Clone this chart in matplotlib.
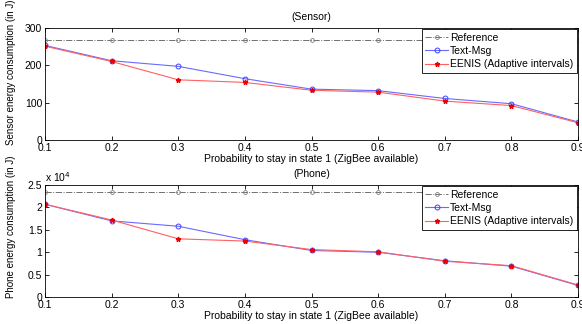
import matplotlib
matplotlib.use("Agg")
import matplotlib.pyplot as plt
from matplotlib.ticker import FuncFormatter

x = [0.1, 0.2, 0.3, 0.4, 0.5, 0.6, 0.7, 0.8, 0.9]
sensor_ref = [267, 267, 267, 267, 267, 267, 267, 267, 267]
sensor_txt = [253, 212, 197, 164, 136, 132, 111, 97, 48]
sensor_eenis = [251, 210, 161, 154, 133, 128, 104, 92, 46]
phone_ref = [23400, 23400, 23400, 23400, 23400, 23400, 23400, 23400, 23400]
phone_txt = [20700, 17000, 15800, 12800, 10400, 10000, 8100, 6900, 2600]
phone_eenis = [20700, 17200, 13000, 12500, 10600, 10100, 8000, 7000, 2700]
labels = ["Reference", "Text-Msg", "EENIS (Adaptive intervals)"]
xlabel = "Probability to stay in state 1 (ZigBee available)"

plt.rcParams['font.family'] = ['Liberation Sans', 'DejaVu Sans']
plt.rcParams['font.size'] = 7.5

fig = plt.figure(figsize=(5.82, 3.24), dpi=100)
ax1 = fig.add_axes([0.0773, 0.568, 0.916, 0.346])
ax2 = fig.add_axes([0.0773, 0.083, 0.916, 0.346])

def draw(ax, ref, txt, een, title, ylabel, ly):
    ax.plot(x, ref, color='#707070', ls='-.', lw=0.7, marker='o', ms=2.8,
            mfc='none', mec='#808080', mew=0.6, label=labels[0])
    ax.plot(x, txt, color='#6a6aff', lw=0.8, marker='o', ms=3.5,
            mfc='none', mec='#4040ff', mew=0.7, label=labels[1])
    ax.plot(x, een, color='#ff6060', lw=0.8, marker='*', ms=3.5,
            mfc='#ee0000', mec='#ee0000', label=labels[2])
    ax.set_xlim(0.1, 0.9)
    ax.set_xticks(x)
    ax.set_xticklabels([f"{v:g}" for v in x])
    ax.set_title(title, fontsize=7.5, pad=6)
    ax.set_xlabel(xlabel, fontsize=7.5, labelpad=1)
    ax.set_ylabel(ylabel, fontsize=7)
    ax.yaxis.set_label_coords(-0.055, ly)
    ax.tick_params(direction='in', top=True, right=True, length=3, width=0.6, pad=2)
    for s in ax.spines.values():
        s.set_linewidth(0.6)
    leg = ax.legend(loc='upper right', fontsize=7.5, frameon=True, fancybox=False,
                    edgecolor='black', framealpha=1, borderpad=0.35,
                    labelspacing=0.32, handlelength=2.2, handletextpad=0.2,
                    borderaxespad=0.1)
    leg.get_frame().set_linewidth(0.6)

draw(ax1, sensor_ref, sensor_txt, sensor_eenis, "(Sensor)", "Sensor energy consumption (in J)", 0.6)
ax1.set_ylim(0, 300)
ax1.set_yticks([0, 100, 200, 300])

draw(ax2, phone_ref, phone_txt, phone_eenis, "(Phone)", "Phone energy consumption (in J)", 0.63)
ax2.set_ylim(0, 25000)
ax2.set_yticks([0, 5000, 10000, 15000, 20000, 25000])
ax2.yaxis.set_major_formatter(FuncFormatter(lambda v, p: f"{v/1e4:g}"))
ax2.text(0.0, 1.01, r"x 10$^4$", transform=ax2.transAxes, fontsize=7.5, va='bottom', ha='left')

fig.savefig("out.png", dpi=100)
